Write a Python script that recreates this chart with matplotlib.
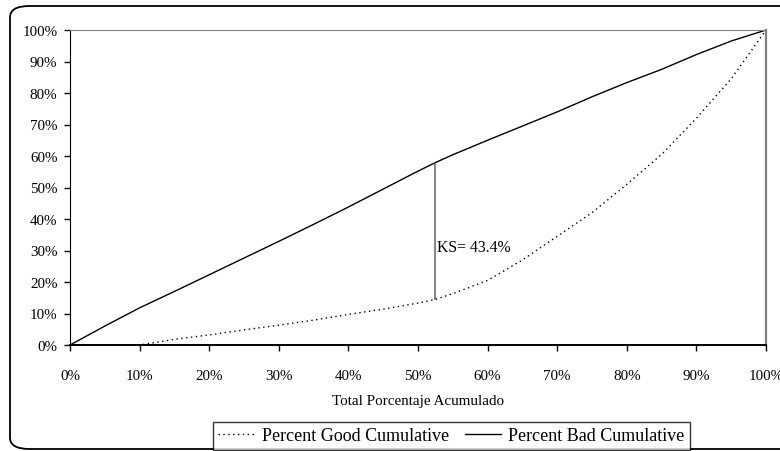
import matplotlib.pyplot as plt
from matplotlib.patches import FancyBboxPatch
from matplotlib.ticker import PercentFormatter

# porcentaje acumulado total (eje x) y curvas acumuladas de buenos / malos
total_pct = [0, 5, 10, 15, 20, 25, 30, 35, 40, 45, 50, 52.4, 55, 60,
             65, 70, 75, 80, 85, 90, 95, 100]
good_cum = [0, 0, 0, 1.8, 3.2, 4.8, 6.3, 7.9, 9.7, 11.4, 13.3, 14.4, 16.3,
            20.5, 27.0, 34.5, 42.0, 51.0, 60.5, 72.0, 84.5, 100]
bad_cum = [0, 6.0, 11.8, 17.0, 22.3, 27.6, 32.9, 38.3, 43.8, 49.5, 55.2,
           57.8, 60.4, 65.0, 69.5, 74.0, 78.8, 83.3, 87.5, 92.2, 96.5, 100]

ks_x = 52.4
ks_good = 14.4
ks_bad = 57.8

plt.rcParams['font.family'] = ['Liberation Serif', 'DejaVu Serif']

fig = plt.figure(figsize=(7.8, 4.52), dpi=100)
ax = fig.add_axes([70 / 780, 1 - 346 / 452, 696 / 780, 315 / 452])

# marco redondeado del grafico
frame = FancyBboxPatch((10 / 780, 2 / 452), 1.2, 443 / 452,
                       boxstyle="round,pad=0,rounding_size=0.025",
                       transform=fig.transFigure, fill=False,
                       edgecolor='black', linewidth=1.3, clip_on=False)
fig.patches.append(frame)

ax.plot(total_pct, good_cum, color='black', linewidth=1,
        linestyle=(0, (1, 2.5)), label='Percent Good Cumulative')
ax.plot(total_pct, bad_cum, color='black', linewidth=1,
        label='Percent Bad Cumulative')

# distancia KS
ax.vlines(ks_x, ks_good, ks_bad, color='#707070', linewidth=1.2)
ax.text(ks_x + 0.4, (ks_good + ks_bad) / 2 - 5,
        'KS= %.1f%%' % (ks_bad - ks_good), fontsize=11.3, va='center')

ax.set_xlim(0, 100)
ax.set_ylim(0, 100)
ax.set_xticks(range(0, 101, 10))
ax.set_yticks(range(0, 101, 10))
ax.xaxis.set_major_formatter(PercentFormatter(decimals=0))
ax.yaxis.set_major_formatter(PercentFormatter(decimals=0))
ax.tick_params(direction='out', length=4, width=1, labelsize=10.8,
               colors='black')
ax.tick_params(axis='x', pad=13)
ax.tick_params(axis='y', pad=5)

ax.spines['left'].set_color('black')
ax.spines['bottom'].set_color('black')
ax.spines['bottom'].set_linewidth(1.4)
ax.spines['top'].set_color('#808080')
ax.spines['right'].set_color('#808080')
ax.spines['right'].set_linewidth(1.6)

ax.set_xlabel('Total Porcentaje Acumulado', fontsize=10.8, labelpad=9)

leg = fig.legend(loc='upper left', bbox_to_anchor=(213 / 780, 1 - 423 / 452),
                 ncol=2, frameon=True, fancybox=False, fontsize=13,
                 handlelength=2.0, columnspacing=0.9, handletextpad=0.4,
                 borderpad=0.3, borderaxespad=0)
leg.get_frame().set_edgecolor('black')
leg.get_frame().set_linewidth(1)

fig.savefig('out.png', dpi=100)
